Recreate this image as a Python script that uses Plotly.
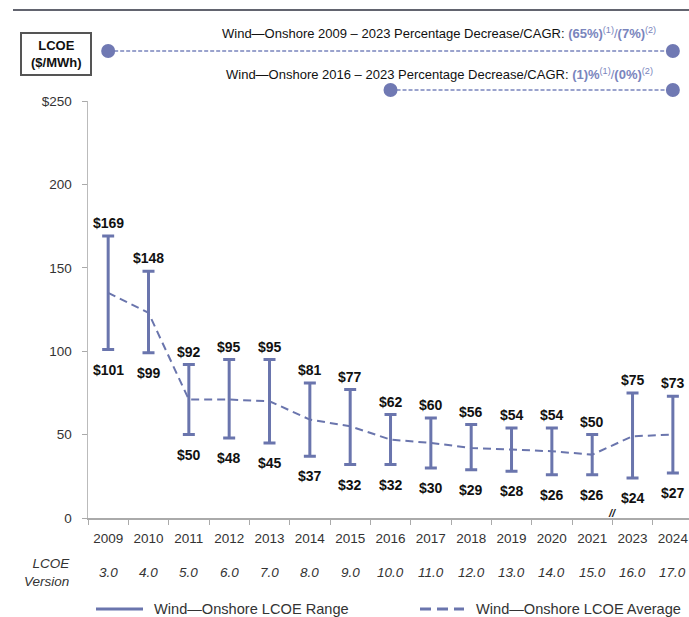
import plotly.graph_objects as go

# ---------------- data ----------------
years = ["2009", "2010", "2011", "2012", "2013", "2014", "2015", "2016",
         "2017", "2018", "2019", "2020", "2021", "2023", "2024"]
versions = ["3.0", "4.0", "5.0", "6.0", "7.0", "8.0", "9.0", "10.0",
            "11.0", "12.0", "13.0", "14.0", "15.0", "16.0", "17.0"]
lcoe_high = [169, 148, 92, 95, 95, 81, 77, 62, 60, 56, 54, 54, 50, 75, 73]
lcoe_low = [101, 99, 50, 48, 45, 37, 32, 32, 30, 29, 28, 26, 26, 24, 27]
lcoe_avg = [135, 123, 71, 71, 70, 59, 55, 47, 45, 42, 41, 40, 38, 49, 50]
ytick_vals = [0, 50, 100, 150, 200, 250]
ytick_text = ["0", "50", "100", "150", "200", "$250"]
summary_1 = ("Wind\u2014Onshore 2009 \u2013 2023 Percentage Decrease/CAGR: ", "(65%)", "(7%)")
summary_2 = ("Wind\u2014Onshore 2016 \u2013 2023 Percentage Decrease/CAGR: ", "(1)%", "(0%)")
summary_1_span = ("2009", "2024")
summary_2_span = ("2016", "2024")
legend_range = "Wind\u2014Onshore LCOE Range"
legend_avg = "Wind\u2014Onshore LCOE Average"

# ---------------- style ----------------
BAR = "#6a75ad"
ACCENT = "#7a85bd"
TXT = "#333333"
FONT = "Liberation Sans, Arial, sans-serif"
W, H = 689, 617
ML, MR, MT, MB = 88, 0, 101, 99
PW, PH = W - ML - MR, H - MT - MB


def px_x(px):
    """screen pixel x -> paper x"""
    return (px - ML) / PW


def px_y(py):
    """screen pixel y -> paper y"""
    return (MT + PH - py) / PH


fig = go.Figure()

fig.add_trace(go.Scatter(
    x=list(range(len(years))), y=lcoe_avg, mode="lines",
    line=dict(color=BAR, width=2, dash="8px,5px"),
    error_y=dict(type="data", symmetric=False,
                 array=[h - a for h, a in zip(lcoe_high, lcoe_avg)],
                 arrayminus=[a - l for a, l in zip(lcoe_avg, lcoe_low)],
                 color=BAR, thickness=3, width=6),
    showlegend=False, hoverinfo="skip",
))

annotations = []
for i, (h, l) in enumerate(zip(lcoe_high, lcoe_low)):
    annotations.append(dict(x=i, y=h, xref="x", yref="y", text=f"<b>${h}</b>",
                            showarrow=False, yshift=13, xanchor="center", yanchor="middle",
                            font=dict(size=14, color="#111", family=FONT)))
    annotations.append(dict(x=i, y=l, xref="x", yref="y", text=f"<b>${l}</b>",
                            showarrow=False, yshift=-20, xanchor="center", yanchor="middle",
                            font=dict(size=14, color="#111", family=FONT)))

for i, v in enumerate(versions):
    annotations.append(dict(x=i, y=px_y(572), xref="x", yref="paper",
                            text=f"<i>{v}</i>", showarrow=False,
                            xanchor="center", yanchor="middle",
                            font=dict(size=13.5, color=TXT, family=FONT)))

annotations.append(dict(x=px_x(72), y=px_y(572), xref="paper", yref="paper",
                        xanchor="right", yanchor="middle", align="right", showarrow=False,
                        text="<i>LCOE<br>Version</i>",
                        font=dict(size=13.5, color=TXT, family=FONT)))

# axis break mark between 2021 and 2023
annotations.append(dict(x=12.5, y=0, xref="x", yref="y", text="<b><i>//</i></b>",
                        showarrow=False, yshift=5, xanchor="center", yanchor="middle",
                        font=dict(size=11, color="#222", family=FONT)))

# LCOE box label
annotations.append(dict(x=px_x(56), y=px_y(54), xref="paper", yref="paper",
                        text="<b>LCOE<br>($/MWh)</b>", showarrow=False,
                        xanchor="center", yanchor="middle",
                        font=dict(size=13, color="#111", family=FONT)))


def summary_text(s):
    return (f"{s[0]}<span style='color:{ACCENT}'><b>{s[1]}</b>"
            f"<sup>(1)</sup>/<b>{s[2]}</b><sup>(2)</sup></span>")


annotations.append(dict(x=px_x(658), y=px_y(33), xref="paper", yref="paper",
                        xanchor="right", yanchor="middle",
                        text=summary_text(summary_1), showarrow=False,
                        font=dict(size=13, color="#111", family=FONT)))
annotations.append(dict(x=px_x(655), y=px_y(74), xref="paper", yref="paper",
                        xanchor="right", yanchor="middle",
                        text=summary_text(summary_2), showarrow=False,
                        font=dict(size=13, color="#111", family=FONT)))

# legend (manual)
annotations.append(dict(x=px_x(152), y=px_y(609), xref="paper", yref="paper",
                        xanchor="left", yanchor="middle", text=legend_range, showarrow=False,
                        font=dict(size=14.6, color=TXT, family=FONT)))
annotations.append(dict(x=px_x(474), y=px_y(609), xref="paper", yref="paper",
                        xanchor="left", yanchor="middle", text=legend_avg, showarrow=False,
                        font=dict(size=14.6, color=TXT, family=FONT)))

shapes = []
# top gray rule
shapes.append(dict(type="line", xref="paper", yref="paper",
                   x0=px_x(13), x1=1, y0=px_y(10), y1=px_y(10),
                   line=dict(color="#62646f", width=2)))
# LCOE box
shapes.append(dict(type="rect", xref="paper", yref="paper",
                   x0=px_x(21), x1=px_x(91), y0=px_y(75), y1=px_y(33),
                   line=dict(color="#555555", width=2), fillcolor="white"))

# summary span lines with dots
for span, py in ((summary_1_span, 51), (summary_2_span, 90)):
    i0, i1 = years.index(span[0]), years.index(span[1])
    shapes.append(dict(type="line", xref="x", yref="paper", x0=i0, x1=i1,
                       y0=px_y(py), y1=px_y(py),
                       line=dict(color=ACCENT, width=1.5, dash="4px,2px")))
    for i in (i0, i1):
        shapes.append(dict(type="circle", xref="x", yref="paper",
                           xsizemode="pixel", ysizemode="pixel",
                           xanchor=i, yanchor=px_y(py),
                           x0=-7, x1=7, y0=-7, y1=7,
                           fillcolor="#7079b3", line=dict(color="#7079b3", width=0)))

# legend symbols
shapes.append(dict(type="line", xref="paper", yref="paper",
                   x0=px_x(96), x1=px_x(143), y0=px_y(609), y1=px_y(609),
                   line=dict(color=BAR, width=3)))
shapes.append(dict(type="line", xref="paper", yref="paper",
                   x0=px_x(420), x1=px_x(464), y0=px_y(609), y1=px_y(609),
                   line=dict(color=BAR, width=3, dash="11px,6px")))

fig.update_layout(
    width=W, height=H,
    margin=dict(l=ML, r=MR, t=MT, b=MB),
    paper_bgcolor="white", plot_bgcolor="white",
    font=dict(family=FONT, color=TXT),
    showlegend=False,
    annotations=annotations,
    shapes=shapes,
    xaxis=dict(tickmode="array", tickvals=list(range(len(years))), ticktext=years,
               range=[-0.5, 14.4], showgrid=False, zeroline=False,
               ticks="", showline=True, linecolor="#aaaaaa", linewidth=1.5,
               ticklabelstandoff=7,
               tickfont=dict(size=13.5, color=TXT, family=FONT),
               minor=dict(tickmode="array",
                          tickvals=[i - 0.5 for i in range(len(years) + 1)],
                          ticks="outside", ticklen=5, tickcolor="#aaaaaa",
                          showgrid=False)),
    yaxis=dict(range=[0, 250], tickvals=ytick_vals, ticktext=ytick_text,
               ticks="outside", ticklen=5, tickcolor="#aaaaaa",
               showline=True, linecolor="#bbbbbb", linewidth=1.5,
               showgrid=False, zeroline=False, ticklabelstandoff=7,
               tickfont=dict(size=13.5, color=TXT, family=FONT)),
)

post = ("document.documentElement.style.margin='0';"
        "document.documentElement.style.overflow='hidden';"
        "document.body.style.margin='0';"
        "document.body.style.overflow='hidden';")
fig.write_html("out.html", post_script=post,
               config={"displayModeBar": False, "staticPlot": True})
